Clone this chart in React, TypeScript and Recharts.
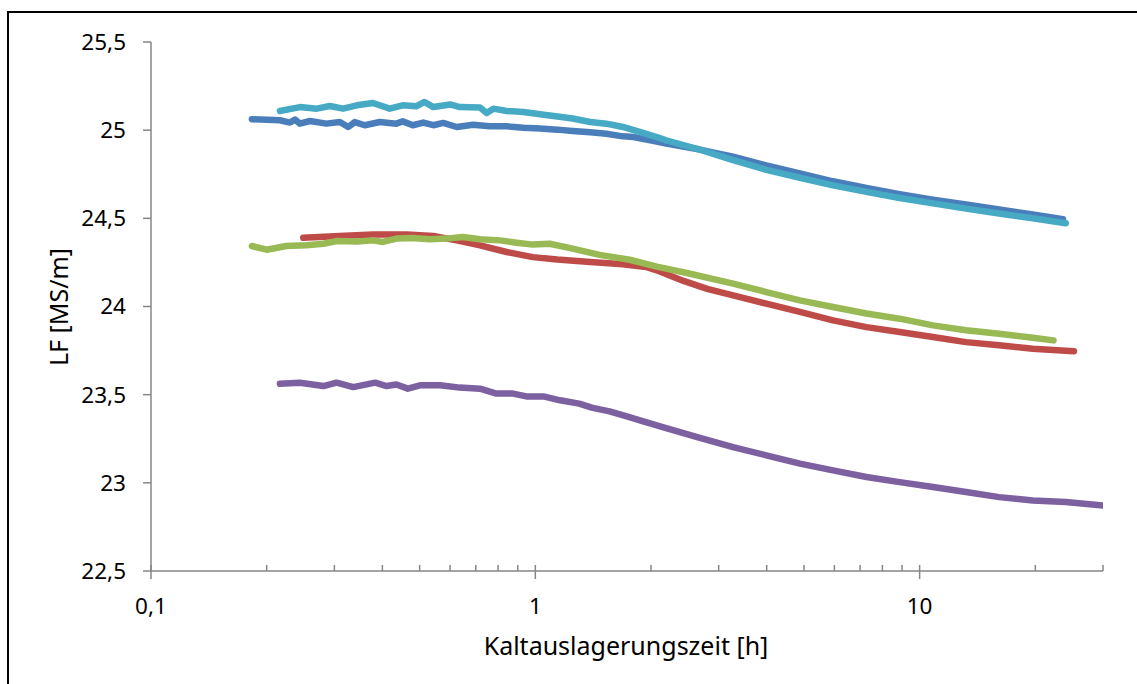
import React from 'react';
import { LineChart, Line, XAxis, YAxis } from 'recharts';

// Kaltauslagerungszeit [h] vs. LF [MS/m]
const blue: [number, number][] = [
  [0.183, 25.062], [0.2165, 25.056], [0.23, 25.043], [0.237, 25.06], [0.244, 25.037],
  [0.259, 25.052], [0.286, 25.037], [0.31, 25.046], [0.326, 25.018], [0.339, 25.046],
  [0.36, 25.028], [0.394, 25.046], [0.435, 25.037], [0.452, 25.05], [0.48, 25.028],
  [0.511, 25.043], [0.543, 25.028], [0.576, 25.041], [0.624, 25.018], [0.689, 25.031],
  [0.761, 25.022], [0.842, 25.022], [0.931, 25.014], [1.03, 25.009], [1.14, 25.003],
  [1.25, 24.995], [1.39, 24.988], [1.53, 24.98], [1.69, 24.965], [1.8, 24.961],
  [2.07, 24.935], [2.19, 24.924], [2.68, 24.89], [3.27, 24.85], [3.99, 24.8],
  [4.88, 24.755], [5.95, 24.71], [7.27, 24.672], [8.87, 24.637], [10.83, 24.606],
  [13.2, 24.578], [16.1, 24.55], [19.7, 24.522], [23.6, 24.495],
];

const red: [number, number][] = [
  [0.249, 24.39], [0.31, 24.4], [0.378, 24.408], [0.463, 24.408], [0.543, 24.4],
  [0.624, 24.375], [0.718, 24.347], [0.842, 24.309], [0.985, 24.28], [1.14, 24.266],
  [1.39, 24.252], [1.69, 24.239], [1.94, 24.224], [2.1, 24.2], [2.43, 24.145],
  [2.8, 24.1], [3.27, 24.063], [3.99, 24.016], [4.88, 23.969], [5.95, 23.921],
  [7.27, 23.883], [8.87, 23.855], [10.83, 23.827], [13.2, 23.798], [16.1, 23.78],
  [19.7, 23.761], [25.2, 23.746],
];

const green: [number, number][] = [
  [0.183, 24.343], [0.2, 24.322], [0.225, 24.343], [0.254, 24.347], [0.281, 24.356],
  [0.304, 24.371], [0.343, 24.369], [0.378, 24.375], [0.401, 24.366], [0.435, 24.385],
  [0.48, 24.388], [0.531, 24.381], [0.587, 24.385], [0.648, 24.394], [0.718, 24.381],
  [0.809, 24.375], [0.893, 24.362], [0.985, 24.351], [1.09, 24.356], [1.25, 24.328],
  [1.47, 24.293], [1.76, 24.265], [2.07, 24.226], [2.48, 24.19], [3.27, 24.13],
  [3.99, 24.082], [4.88, 24.035], [5.95, 23.997], [7.27, 23.96], [8.87, 23.931],
  [10.83, 23.893], [13.2, 23.865], [16.1, 23.846], [19.7, 23.823], [22.3, 23.808],
];

const purple: [number, number][] = [
  [0.2165, 23.562], [0.244, 23.568], [0.281, 23.549], [0.304, 23.568], [0.336, 23.543],
  [0.383, 23.568], [0.41, 23.549], [0.435, 23.558], [0.466, 23.534], [0.501, 23.553],
  [0.565, 23.553], [0.636, 23.54], [0.718, 23.534], [0.792, 23.506], [0.875, 23.506],
  [0.948, 23.49], [1.05, 23.49], [1.16, 23.468], [1.3, 23.449], [1.41, 23.425],
  [1.56, 23.405], [1.73, 23.377], [1.9, 23.35], [2.19, 23.31], [2.68, 23.255],
  [3.27, 23.203], [3.99, 23.156], [4.88, 23.109], [5.95, 23.071],
  [7.27, 23.033], [8.87, 23.004], [10.83, 22.976], [13.2, 22.948], [16.1, 22.919],
  [19.7, 22.9], [24.0, 22.891], [30, 22.872],
];

const cyan: [number, number][] = [
  [0.2165, 25.109], [0.244, 25.131], [0.27, 25.122], [0.292, 25.137], [0.316, 25.122],
  [0.343, 25.141], [0.378, 25.154], [0.418, 25.122], [0.452, 25.141], [0.49, 25.135],
  [0.515, 25.16], [0.543, 25.131], [0.6, 25.146], [0.636, 25.131], [0.718, 25.128],
  [0.747, 25.097], [0.778, 25.122], [0.842, 25.109], [0.931, 25.103], [1.03, 25.09],
  [1.25, 25.066], [1.39, 25.046], [1.53, 25.037], [1.69, 25.018], [1.87, 24.99],
  [2.07, 24.961], [2.19, 24.942], [2.68, 24.89], [3.27, 24.83], [3.99, 24.775],
  [4.88, 24.73], [5.95, 24.687], [7.27, 24.65], [8.87, 24.615], [10.83, 24.585],
  [13.2, 24.555], [16.1, 24.527], [19.7, 24.5], [24.0, 24.472],
];

const xTicks = [
  0.1, 0.2, 0.3, 0.4, 0.5, 0.6, 0.7, 0.8, 0.9,
  1, 2, 3, 4, 5, 6, 7, 8, 9,
  10, 20, 30,
];
const xMajor = [0.1, 1, 10];
const yTicks = [22.5, 23, 23.5, 24, 24.5, 25, 25.5];

const series = [
  { name: 'blue', points: blue, color: '#4a7ebb' },
  { name: 'red', points: red, color: '#be4b48' },
  { name: 'green', points: green, color: '#98b954' },
  { name: 'purple', points: purple, color: '#7d60a0' },
  { name: 'cyan', points: cyan, color: '#46aac5' },
];

const FONT = '"Noto Sans", "Open Sans", sans-serif';
const AXIS = '#868686';

const fmt = (v: number) => String(v).replace('.', ',');

const XTick = (props: any) => {
  const { x, y, payload } = props;
  const major = xMajor.includes(payload.value);
  return (
    <g>
      <line x1={x} x2={x} y1={y - 6} y2={major ? y + 8 : y} stroke={AXIS} strokeWidth={1.5} />
      {major && (
        <text x={x} y={y + 35} dy="0.35em" textAnchor="middle" fontSize={22.5} fontFamily={FONT} fill="#000">
          {fmt(payload.value)}
        </text>
      )}
    </g>
  );
};

export default function App() {
  return (
    <div style={{ position: 'absolute', left: 0, top: 0, width: 1137, height: 684, overflow: 'hidden', background: '#fff' }}>
      <div style={{ position: 'absolute', left: 7, top: 11, width: 1200, height: 700, borderLeft: '2px solid #000', borderTop: '2px solid #000' }} />
      <LineChart width={1137} height={684} margin={{ top: 42, right: 34, bottom: 0, left: 0 }}>
        <XAxis
          type="number"
          dataKey="t"
          scale="log"
          domain={[0.1, 30]}
          allowDataOverflow
          ticks={xTicks}
          interval={0}
          tick={<XTick />}
          tickLine={false}
          tickSize={0}
          tickMargin={0}
          height={113}
          stroke={AXIS}
          strokeWidth={1.5}
        />
        <YAxis
          type="number"
          domain={[22.5, 25.5]}
          ticks={yTicks}
          interval={0}
          width={151}
          tickSize={8}
          tickMargin={17}
          tickFormatter={fmt}
          tick={{ fill: '#000', fontSize: 22.5, fontFamily: FONT }}
          stroke={AXIS}
          strokeWidth={1.5}
        />
        {series.map((s) => (
          <Line
            key={s.name}
            data={s.points.map(([t, v]) => ({ t, v }))}
            dataKey="v"
            type="linear"
            stroke={s.color}
            strokeWidth={6.5}
            strokeLinecap="round"
            strokeLinejoin="round"
            dot={false}
            activeDot={false}
            isAnimationActive={false}
          />
        ))}
      </LineChart>
      <div style={{ position: 'absolute', left: 626, top: 645, transform: 'translate(-50%, -50%)', whiteSpace: 'nowrap', fontFamily: FONT, fontSize: 25, color: '#000' }}>
        Kaltauslagerungszeit [h]
      </div>
      <div style={{ position: 'absolute', left: 58, top: 307, transform: 'translate(-50%, -50%) rotate(-90deg)', whiteSpace: 'nowrap', fontFamily: FONT, fontSize: 25, color: '#000' }}>
        LF [MS/m]
      </div>
    </div>
  );
}
